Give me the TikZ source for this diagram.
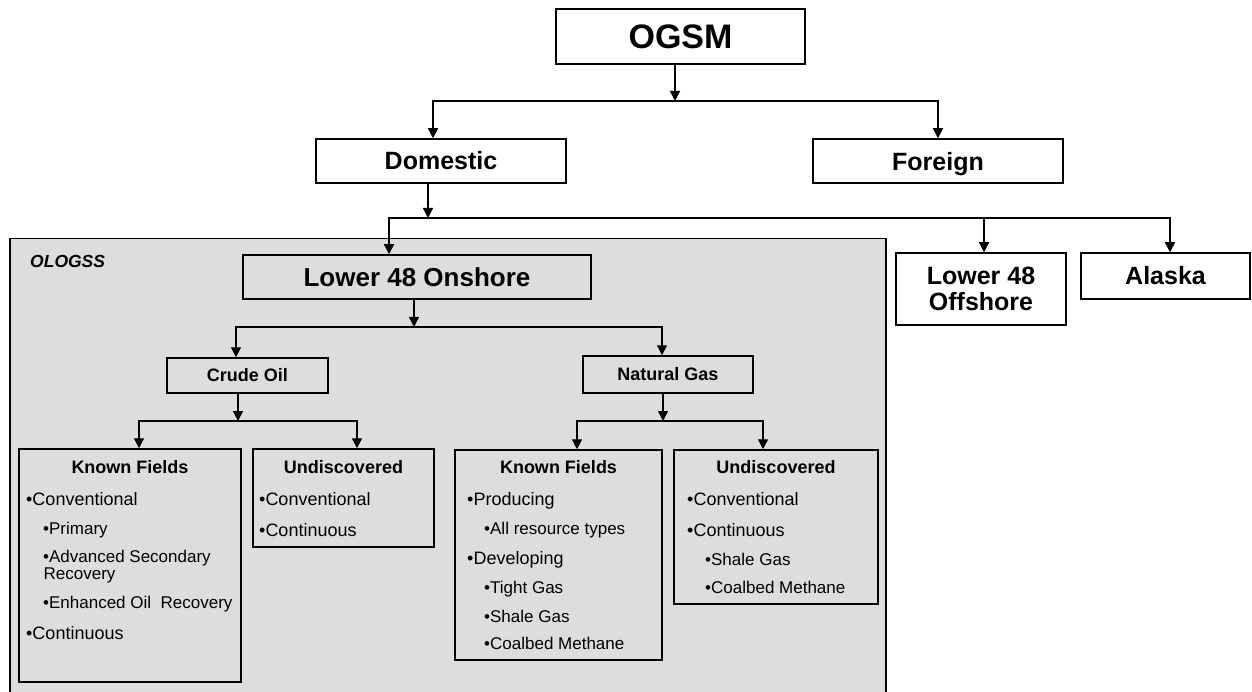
\documentclass[tikz,border=0pt]{standalone}
\usepackage{fontspec}
\setmainfont{Liberation Sans}
\usetikzlibrary{arrows.meta}
\definecolor{panel}{RGB}{221,221,221}
\newcommand\fOGSM{\fontsize{34}{40}\selectfont\bfseries}
\newcommand\fBig{\fontsize{25}{26}\selectfont\bfseries}
\newcommand\fHead{\fontsize{18}{21}\selectfont\bfseries}
\newcommand\fItem{\fontsize{18}{21}\selectfont}
\newcommand\fSub{\fontsize{17}{20}\selectfont}
\tikzset{
  box/.style={draw, line width=1.5pt, inner sep=0pt, align=center, fill=white},
  gbox/.style={box, fill=panel},
  arr/.style={line width=1.4pt, -{Triangle[width=10pt,length=10pt]}},
  item/.style={anchor=base west, inner sep=0pt, font=\fItem},
  subitem/.style={anchor=base west, inner sep=0pt, font=\fSub},
  head/.style={anchor=base, inner sep=0pt, font=\fHead},
}
\begin{document}
\begin{tikzpicture}[x=1pt,y=-1pt]
\useasboundingbox (0,0) rectangle (1252,692);
% panel
\node[draw, line width=1.5pt, fill=panel, minimum width=876pt, minimum height=480pt, anchor=north west, inner sep=0pt] (panelbox) at (9,238) {};
\node[anchor=base west, inner sep=0pt, font=\fontsize{17.5}{20}\selectfont\bfseries\itshape] (ologss) at (30,268) {OLOGSS};
% top level
\node[box, minimum width=249pt, minimum height=55pt, font=\fOGSM] (ogsm) at (680.5,36.5) {OGSM};
\node[box, minimum width=250pt, minimum height=44pt, font=\fBig] (dom) at (441,161) {Domestic};
\node[box, minimum width=250pt, minimum height=44pt, font=\fBig, text depth=0pt] (for) at (938,161) {Foreign};
\node[gbox, minimum width=348pt, minimum height=44pt, font=\fontsize{26}{28}\selectfont\bfseries] (l48on) at (417,277) {Lower 48 Onshore};
\node[box, minimum width=170pt, minimum height=72pt, font=\fBig] (l48off) at (981,289) {Lower 48\\Offshore};
\node[box, minimum width=169pt, minimum height=46pt, font=\fBig] (alaska) at (1165.5,276) {Alaska};
\node[gbox, minimum width=161pt, minimum height=35pt, font=\fHead] (crude) at (247.5,375.5) {Crude Oil};
\node[gbox, minimum width=170pt, minimum height=37pt, font=\fHead] (natgas) at (668,374.5) {Natural Gas};
% lower boxes
\node[gbox, minimum width=222pt, minimum height=233pt] (kf1) at (130,565.5) {};
\node[gbox, minimum width=181pt, minimum height=98pt] (ud1) at (343.5,498) {};
\node[gbox, minimum width=207pt, minimum height=210pt] (kf2) at (558.5,555) {};
\node[gbox, minimum width=204pt, minimum height=154pt] (ud2) at (776,527) {};
% kf1 text
\node[head] (kf1t) at (130,473.5) {Known Fields};
\node[item] (kf1a) at (26,505.5) {•Conventional};
\node[subitem] (kf1b) at (43,534) {•Primary};
\node[subitem] (kf1c) at (43,562) {•Advanced Secondary};
\node[subitem] (kf1d) at (43.5,579) {Recovery};
\node[subitem] (kf1e) at (43,608) {•Enhanced Oil~ Recovery};
\node[item] (kf1f) at (26,639.5) {•Continuous};
% ud1 text
\node[head] (ud1t) at (343.5,473.5) {Undiscovered};
\node[item] (ud1a) at (259,505.5) {•Conventional};
\node[item] (ud1b) at (259,536.5) {•Continuous};
% kf2 text
\node[head] (kf2t) at (558.5,473.5) {Known Fields};
\node[item] (kf2a) at (467,505.5) {•Producing};
\node[subitem] (kf2b) at (484,534) {•All resource types};
\node[item] (kf2c) at (467,564.5) {•Developing};
\node[subitem] (kf2d) at (484,593) {•Tight Gas};
\node[subitem] (kf2e) at (484,622) {•Shale Gas};
\node[subitem] (kf2f) at (484,649) {•Coalbed Methane};
% ud2 text
\node[head] (ud2t) at (776,473.5) {Undiscovered};
\node[item] (ud2a) at (687,505.5) {•Conventional};
\node[item] (ud2b) at (687,536.5) {•Continuous};
\node[subitem] (ud2c) at (705,565) {•Shale Gas};
\node[subitem] (ud2d) at (705,593) {•Coalbed Methane};
% connectors
\coordinate (j1) at (675,101);
\draw[arr] (ogsm.south -| j1) -- (j1);
\draw[arr] (j1) -| ([xshift=-8pt]dom.north);
\draw[arr] (j1) -| (for.north);
\coordinate (j2) at (428,218);
\draw[arr] (dom.south -| j2) -- (j2);
\draw[arr] (j2) -| ([xshift=-28pt]l48on.north);
\draw[arr] (j2) -| ([xshift=3pt]l48off.north);
\draw[arr] (j2) -| ([xshift=4.5pt]alaska.north);
\coordinate (j3) at (414,327);
\draw[arr] (l48on.south -| j3) -- (j3);
\draw[arr] (j3) -| ([xshift=-11.5pt]crude.north);
\draw[arr] (j3) -| ([xshift=-6pt]natgas.north);
\coordinate (j4) at (238,421);
\draw[arr] (crude.south -| j4) -- (j4);
\draw[arr] (j4) -| ([xshift=9pt]kf1.north);
\draw[arr] (j4) -| ([xshift=13.5pt]ud1.north);
\coordinate (j5) at (663,421);
\draw[arr] (natgas.south -| j5) -- (j5);
\draw[arr] (j5) -| ([xshift=18.5pt]kf2.north);
\draw[arr] (j5) -| ([xshift=-13pt]ud2.north);
\end{tikzpicture}
\end{document}
